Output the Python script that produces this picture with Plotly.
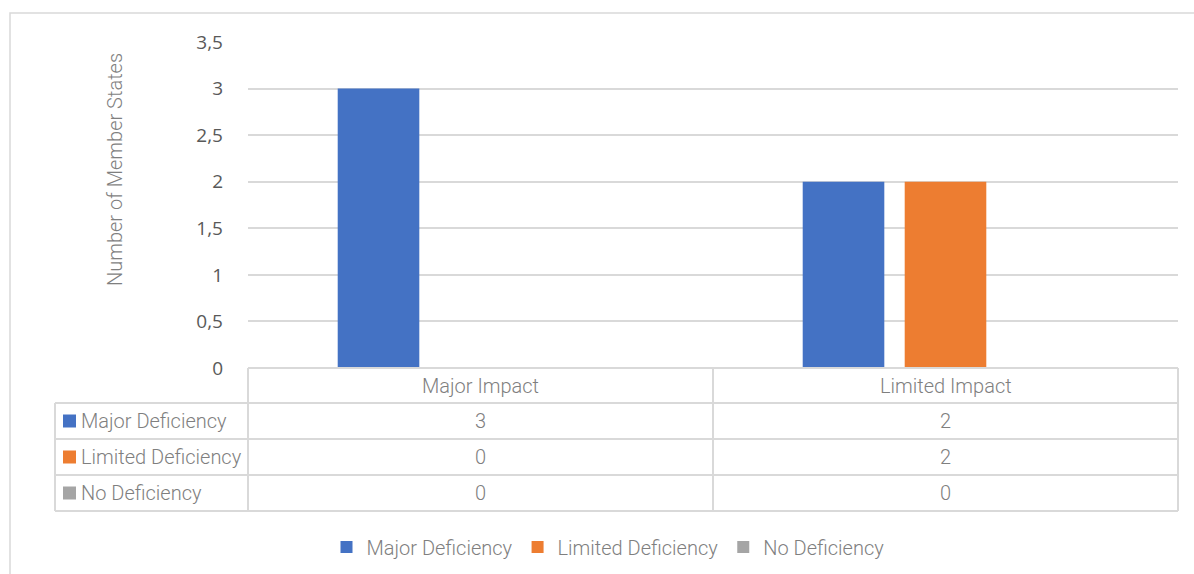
import plotly.graph_objects as go

categories = ["Major Impact", "Limited Impact"]
series_names = ["Major Deficiency", "Limited Deficiency", "No Deficiency"]
major_deficiency = [3, 2]
limited_deficiency = [0, 2]
no_deficiency = [0, 0]
series_values = [major_deficiency, limited_deficiency, no_deficiency]
colors = ["#4472C4", "#ED7D31", "#A5A5A5"]
y_ticks = [0, 0.5, 1, 1.5, 2, 2.5, 3, 3.5]

W, H = 1194, 574
PL, PR, PT, PB = 248, 1178, 42, 368  # plot area in pixels
GRID = "#d9d9d9"
TXT = "#7f7f7f"
FONT = "Roboto, sans-serif"


def px_x(x):
    return (x - PL) / (PR - PL)


def px_y(y):
    return (PB - y) / (PB - PT)


def table_font(size=20):
    return dict(family=FONT, size=size, color=TXT, weight=300)


fig = go.Figure()
for name, vals, col in zip(series_names, series_values, colors):
    fig.add_trace(go.Bar(x=categories, y=vals, name=name, marker_color=col,
                         marker_line_width=0))

# data table below the plot
row_edges = [368, 403, 439, 475, 511]
label_left = 55
col_edges = [PL, (PL + PR) / 2, PR]
shapes = []
for yy in row_edges[1:]:
    shapes.append(dict(type="line", xref="paper", yref="paper",
                       x0=px_x(label_left), x1=px_x(PR), y0=px_y(yy), y1=px_y(yy),
                       line=dict(color=GRID, width=2)))
shapes.append(dict(type="line", xref="paper", yref="paper",
                   x0=px_x(PL), x1=px_x(PR), y0=px_y(row_edges[0]), y1=px_y(row_edges[0]),
                   line=dict(color=GRID, width=2)))
for xx in col_edges:
    shapes.append(dict(type="line", xref="paper", yref="paper",
                       x0=px_x(xx), x1=px_x(xx), y0=px_y(row_edges[0]), y1=px_y(row_edges[-1]),
                       line=dict(color=GRID, width=2)))
shapes.append(dict(type="line", xref="paper", yref="paper",
                   x0=px_x(label_left), x1=px_x(label_left), y0=px_y(row_edges[1]),
                   y1=px_y(row_edges[-1]), line=dict(color=GRID, width=2)))
# outer chart border
shapes.append(dict(type="rect", xref="paper", yref="paper",
                   x0=px_x(10), x1=px_x(1200), y0=px_y(13), y1=px_y(590),
                   line=dict(color=GRID, width=1.5), layer="below"))

annotations = []
hdr_mid = (row_edges[0] + row_edges[1]) / 2
for c in categories:
    annotations.append(dict(x=c, xref="x", y=px_y(hdr_mid), yref="paper",
                            xanchor="center", yanchor="middle",
                            text=c, showarrow=False, font=table_font()))
for r, (name, vals, col) in enumerate(zip(series_names, series_values, colors)):
    mid = (row_edges[r + 1] + row_edges[r + 2]) / 2
    shapes.append(dict(type="rect", xref="paper", yref="paper",
                       x0=px_x(63), x1=px_x(76), y0=px_y(mid - 6.5), y1=px_y(mid + 6.5),
                       fillcolor=col, line_width=0))
    annotations.append(dict(x=px_x(79), xref="paper", y=px_y(mid), yref="paper",
                            text=name, showarrow=False, xanchor="left", yanchor="middle",
                            font=table_font()))
    for c, v in zip(categories, vals):
        annotations.append(dict(x=c, xref="x", y=px_y(mid), yref="paper",
                                xanchor="center", yanchor="middle",
                                text=str(v), showarrow=False, font=table_font()))

annotations.append(dict(x=px_x(115), xref="paper", y=px_y(170), yref="paper",
                        xanchor="center", yanchor="middle",
                        text="Number of Member States", textangle=-90, showarrow=False,
                        font=table_font(20)))

fig.update_layout(
    width=W, height=H,
    margin=dict(l=PL, r=W - PR, t=PT, b=H - PB, autoexpand=False),
    paper_bgcolor="white", plot_bgcolor="white",
    separators=",.",
    barmode="group", bargap=0.342, bargroupgap=0.2,
    showlegend=True,
    legend=dict(orientation="h", x=px_x(608), xanchor="center", y=px_y(547), yanchor="middle",
                font=table_font(), itemwidth=30, traceorder="normal"),
    shapes=shapes, annotations=annotations,
)
fig.update_xaxes(showticklabels=False, showgrid=False, zeroline=False, showline=False)
fig.update_yaxes(range=[0, 3.5], tickvals=y_ticks, showgrid=True, gridcolor=GRID, gridwidth=2,
                 zeroline=False, showline=False, ticks="", ticklabelstandoff=24,
                 automargin=False,
                 tickfont=dict(family="Open Sans, sans-serif", size=19, color="#595959"))

# the page body has a default 8px margin; remove it so the chart fills the window
fig.write_html("out.html", config={"displayModeBar": False},
               post_script="document.body.style.margin='0';")
